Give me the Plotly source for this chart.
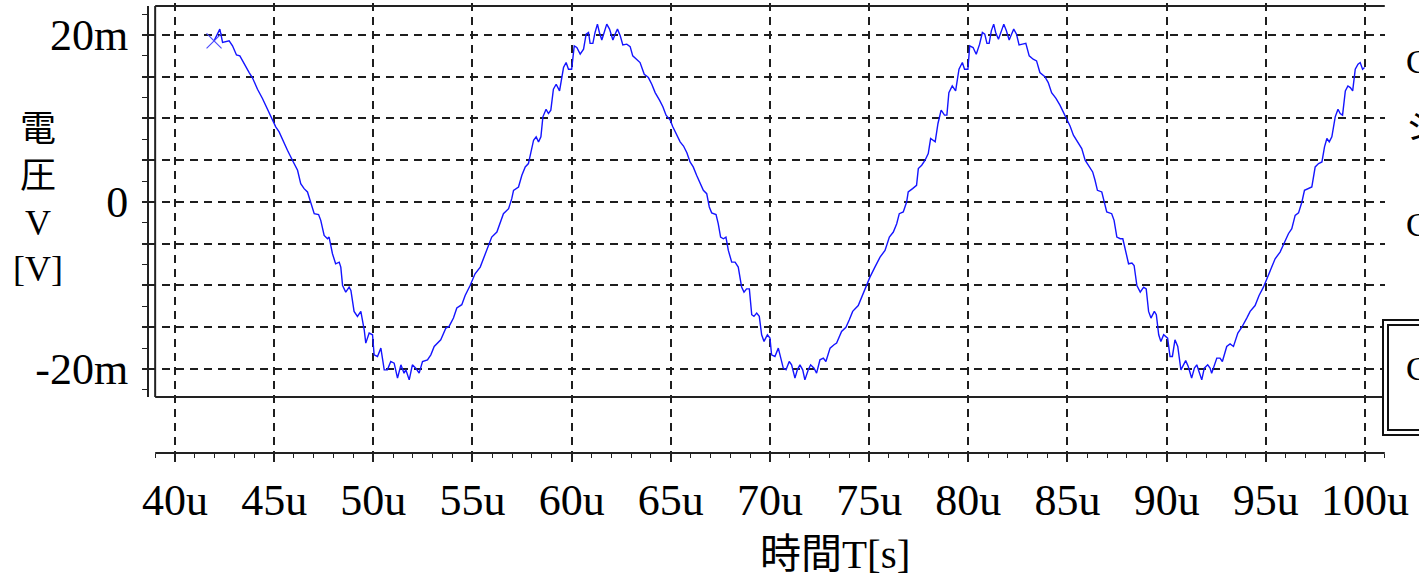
import plotly.graph_objects as go

# Transient waveform: time in microseconds, voltage in millivolts
t_us = [
    41.97, 42.06, 42.26, 42.40, 42.56, 42.73, 42.90, 43.10, 43.27, 43.49, 43.74, 43.90,
    44.16, 44.41, 44.66, 44.83, 45.08, 45.25, 45.50, 45.67, 45.92, 46.18, 46.34, 46.51,
    46.68, 46.85, 47.02, 47.24, 47.35, 47.52, 47.69, 47.77, 47.94, 48.10, 48.28, 48.36,
    48.45, 48.61, 48.78, 48.87, 49.03, 49.20, 49.37, 49.54, 49.62, 49.79, 49.96, 50.04,
    50.21, 50.38, 50.55, 50.71, 50.88, 51.05, 51.22, 51.39, 51.55, 51.64, 51.81, 51.97,
    52.14, 52.31, 52.48, 52.73, 52.90, 53.07, 53.24, 53.40, 53.66, 53.82, 54.04, 54.21,
    54.46, 54.63, 54.88, 55.13, 55.39, 55.55, 55.81, 55.97, 56.23, 56.39, 56.56, 56.82,
    56.98, 57.07, 57.32, 57.49, 57.66, 57.82, 57.91, 58.08, 58.21, 58.33, 58.45, 58.55,
    58.71, 58.83, 58.95, 59.08, 59.22, 59.39, 59.59, 59.72, 59.84, 60.00, 60.13, 60.26,
    60.43, 60.60, 60.73, 60.85, 60.93, 61.07, 61.18, 61.30, 61.40, 61.52, 61.64, 61.77,
    61.91, 62.08, 62.19, 62.31, 62.45, 62.58, 62.78, 62.95, 63.08, 63.29, 63.45, 63.66,
    63.87, 64.04, 64.21, 64.43, 64.60, 64.76, 64.97, 65.10, 65.30, 65.47, 65.64, 65.81,
    65.97, 66.13, 66.30, 66.47, 66.64, 66.81, 66.94, 67.06, 67.28, 67.39, 67.51, 67.65,
    67.78, 67.90, 68.07, 68.24, 68.40, 68.57, 68.69, 68.82, 68.96, 69.08, 69.19, 69.33,
    69.46, 69.58, 69.70, 69.87, 70.00, 70.08, 70.25, 70.42, 70.54, 70.67, 70.81, 70.97,
    71.09, 71.26, 71.38, 71.51, 71.65, 71.76, 71.93, 72.05, 72.22, 72.35, 72.52, 72.69,
    72.82, 73.03, 73.23, 73.36, 73.61, 73.83, 74.00, 74.17, 74.45, 74.62, 74.84, 75.04,
    75.29, 75.55, 75.80, 76.02, 76.22, 76.39, 76.52, 76.72, 76.89, 76.97, 77.19, 77.39,
    77.48, 77.65, 77.82, 77.98, 78.10, 78.33, 78.47, 78.63, 78.80, 78.92, 79.02, 79.19,
    79.36, 79.53, 79.70, 79.81, 79.98, 80.07, 80.24, 80.40, 80.57, 80.71, 80.83, 80.94,
    81.05, 81.16, 81.28, 81.38, 81.52, 81.65, 81.79, 81.92, 82.06, 82.18, 82.29, 82.43,
    82.56, 82.73, 82.90, 83.07, 83.27, 83.44, 83.61, 83.86, 84.03, 84.20, 84.42, 84.62,
    84.79, 84.96, 85.13, 85.30, 85.55, 85.72, 85.89, 86.10, 86.27, 86.39, 86.51, 86.73,
    86.85, 86.98, 87.23, 87.35, 87.49, 87.66, 87.79, 87.91, 88.08, 88.25, 88.36, 88.50,
    88.67, 88.84, 88.97, 89.09, 89.21, 89.38, 89.48, 89.60, 89.71, 89.85, 90.05, 90.17,
    90.29, 90.42, 90.56, 90.72, 90.84, 90.96, 91.09, 91.26, 91.40, 91.52, 91.63, 91.77,
    91.90, 92.07, 92.19, 92.27, 92.53, 92.69, 92.81, 93.03, 93.20, 93.37, 93.59, 93.79,
    94.04, 94.21, 94.46, 94.66, 94.88, 95.05, 95.27, 95.47, 95.72, 95.94, 96.14, 96.31,
    96.48, 96.65, 96.82, 96.95, 97.12, 97.32, 97.49, 97.66, 97.83, 97.96, 98.08, 98.20,
    98.33, 98.50, 98.64, 98.75, 98.87, 99.01, 99.14, 99.26, 99.38, 99.51, 99.65, 99.76,
    99.88, 99.98,
]
v_mv = [
    19.3, 19.7, 20.7, 19.1, 19.2, 19.3, 18.7, 17.6, 17.5, 16.5, 15.5, 14.9,
    13.5, 12.4, 11.2, 10.2, 9.0, 8.4, 7.0, 6.2, 5.0, 3.8, 2.2, 1.6,
    1.2, 0.0, -1.4, -1.5, -2.2, -4.0, -4.4, -4.2, -6.2, -7.4, -7.2, -7.8,
    -10.0, -10.8, -10.2, -10.6, -13.1, -13.7, -13.1, -15.3, -16.9, -15.7, -15.9, -18.3,
    -18.5, -17.5, -20.1, -20.1, -19.1, -19.3, -21.1, -19.5, -20.5, -20.1, -21.3, -19.5,
    -19.9, -20.5, -19.1, -18.9, -18.3, -17.3, -16.9, -16.5, -15.1, -14.9, -13.9, -12.7,
    -12.3, -11.2, -10.0, -8.6, -7.8, -6.8, -5.4, -4.2, -3.6, -2.4, -1.4, -0.8,
    0.4, 1.4, 1.8, 3.2, 4.2, 4.6, 5.6, 7.4, 7.8, 7.2, 7.8, 10.2,
    11.1, 10.6, 11.0, 13.5, 14.1, 13.3, 16.1, 16.7, 15.9, 15.9, 18.7, 18.5,
    17.7, 18.3, 20.1, 20.3, 19.0, 19.0, 20.3, 21.3, 20.3, 19.4, 20.3, 21.3,
    20.7, 19.4, 20.1, 20.7, 19.9, 18.8, 18.9, 18.6, 17.5, 17.1, 16.7, 15.3,
    14.9, 14.1, 13.1, 12.2, 11.4, 10.4, 9.8, 9.0, 8.0, 7.2, 6.7, 5.9,
    4.8, 4.2, 3.2, 2.2, 1.4, 1.0, -0.6, -1.3, -1.5, -2.6, -4.2, -4.4,
    -4.2, -5.8, -7.2, -7.2, -7.8, -10.2, -10.8, -10.4, -10.4, -13.5, -13.7, -13.3,
    -13.7, -15.9, -16.7, -15.9, -16.3, -18.3, -18.5, -17.5, -18.7, -19.9, -20.1, -19.1,
    -19.5, -21.1, -20.1, -19.5, -20.1, -21.3, -20.1, -19.5, -19.9, -20.5, -18.9, -18.7,
    -19.1, -17.5, -17.1, -16.9, -15.5, -15.0, -14.1, -13.1, -12.4, -11.4, -10.2, -9.0,
    -7.8, -6.6, -5.8, -4.2, -3.6, -2.6, -1.4, -1.2, 0.0, 1.2, 1.6, 2.0,
    4.0, 4.4, 5.0, 5.8, 7.6, 7.2, 9.4, 11.0, 10.4, 10.4, 13.1, 13.9,
    13.3, 15.9, 16.7, 15.9, 15.9, 18.7, 18.5, 17.7, 18.9, 20.3, 20.1, 19.0,
    19.0, 20.5, 21.3, 20.3, 19.5, 20.3, 21.3, 20.5, 19.4, 20.1, 20.7, 20.1,
    18.8, 18.9, 19.0, 17.5, 17.1, 16.9, 15.5, 15.0, 14.3, 13.1, 12.4, 11.6,
    10.8, 10.0, 9.1, 8.0, 7.0, 6.4, 5.0, 4.2, 3.6, 2.6, 1.4, 1.2,
    0.0, -1.2, -1.4, -2.2, -4.2, -4.4, -4.4, -5.8, -7.4, -7.3, -7.6, -10.0,
    -10.8, -10.2, -10.4, -13.1, -13.9, -13.1, -13.5, -15.9, -16.7, -15.9, -16.3, -18.5,
    -18.5, -16.5, -17.3, -20.1, -19.5, -19.0, -19.7, -21.1, -19.9, -19.5, -20.3, -21.3,
    -19.9, -19.5, -19.9, -20.5, -18.7, -18.7, -19.1, -17.3, -17.0, -17.3, -15.7, -15.0,
    -13.9, -13.1, -12.4, -11.2, -10.2, -9.2, -8.0, -6.8, -6.0, -4.8, -3.8, -3.2,
    -1.6, -1.3, 0.0, 1.4, 1.6, 1.8, 4.2, 4.6, 4.8, 6.6, 7.6, 7.2,
    7.8, 10.2, 11.1, 10.6, 10.4, 13.3, 13.9, 13.7, 13.3, 15.9, 16.5, 16.7,
    15.9, 16.1,
]

# Cursor position on the trace
cursor_t = [41.97]
cursor_v = [19.3]

x_ticks = [40, 45, 50, 55, 60, 65, 70, 75, 80, 85, 90, 95, 100]
x_labels = [f"{v}u" for v in x_ticks]
x_minor = [v for v in range(39, 102) if v % 5 != 0]

y_ticks = [-20, -15, -10, -5, 0, 5, 10, 15, 20]
y_labels = ["-20m", "", "", "", "0", "", "", "", "20m"]
y_minor = [-22.5, -17.5, -12.5, -7.5, -2.5, 2.5, 7.5, 12.5, 17.5, 22.5]

legend_items = ["C", "シ", "C"]
legend_boxed = "C"

SERIF = "Liberation Serif, Times New Roman, serif"
MIXED = "Liberation Serif, Noto Sans CJK JP, serif"
INK = "#222222"

W, H = 1419, 577
ML, MR, MT, MB = 148, 34, 3, 124
PW, PH = W - ML - MR, H - MT - MB


def px(x):
    return (x - ML) / PW


def py(y):
    return (H - MB - y) / PH


fig = go.Figure()
fig.add_trace(go.Scatter(
    x=t_us, y=v_mv, mode="lines",
    line=dict(color="#1414ff", width=1.4),
    hoverinfo="skip", showlegend=False,
))
fig.add_trace(go.Scatter(
    x=cursor_t, y=cursor_v, mode="markers",
    marker=dict(symbol="x-thin", size=15, line=dict(width=1.2, color="#4a4aff")),
    hoverinfo="skip", showlegend=False,
))

# plot frame (left, top, bottom) and the separate axis lines
frame_x0, frame_x1 = 39, 101
frame_y0, frame_y1 = -23.35, 23.47
for x0, y0, x1, y1 in [
    (frame_x0, frame_y0, frame_x0, frame_y1),
    (frame_x0, frame_y1, frame_x1, frame_y1),
    (frame_x0, frame_y0, frame_x1, frame_y0),
]:
    fig.add_shape(type="line", xref="x", yref="y", x0=x0, y0=y0, x1=x1, y1=y1,
                  line=dict(color=INK, width=2))
fig.add_shape(type="line", xref="paper", yref="y", x0=0, x1=0, y0=frame_y0, y1=frame_y1,
              line=dict(color=INK, width=2))
fig.add_shape(type="line", xref="x", yref="paper", x0=frame_x0, x1=frame_x1, y0=0, y1=0,
              line=dict(color=INK, width=2))

# legend panel at the right edge
fig.add_shape(type="rect", xref="paper", yref="paper",
              x0=px(1383), x1=px(1520), y0=py(435), y1=py(320),
              line=dict(color="#111", width=2), fillcolor="white")
fig.add_shape(type="rect", xref="paper", yref="paper",
              x0=px(1388), x1=px(1520), y0=py(430), y1=py(325),
              line=dict(color="#111", width=2))
for txt, yy in zip(legend_items, [61, 127, 225]):
    fig.add_annotation(text=txt, xref="paper", yref="paper", x=px(1404), y=py(yy),
                       xanchor="left", yanchor="middle", showarrow=False,
                       font=dict(family=MIXED, size=34, color="black"))
fig.add_annotation(text=legend_boxed, xref="paper", yref="paper", x=px(1404), y=py(368),
                   xanchor="left", yanchor="middle", showarrow=False,
                   font=dict(family=MIXED, size=34, color="black"))

# axis titles
fig.add_annotation(text="電<br>圧<br>V<br>[V]", xref="paper", yref="paper",
                   x=px(38), y=py(199), xanchor="center", yanchor="middle",
                   showarrow=False, align="center",
                   font=dict(family=MIXED, size=36, color="black"))
fig.add_annotation(text="時間T[s]", xref="paper", yref="paper",
                   x=px(835), y=py(554), xanchor="center", yanchor="middle",
                   showarrow=False, font=dict(family=MIXED, size=41, color="black"))

grid = dict(showgrid=True, gridcolor="#1e1e1e", gridwidth=1.6, griddash="8px,6px",
            zeroline=False, showline=False)

fig.update_xaxes(
    range=[38.639, 101.01], tickmode="array", tickvals=x_ticks, ticktext=x_labels,
    ticks="outside", ticklen=8, tickwidth=1.5, tickcolor=INK,
    tickfont=dict(family=SERIF, size=44, color="black"), ticklabelstandoff=0,
    minor=dict(tickvals=x_minor, ticks="outside", ticklen=4, tickwidth=1.2,
               tickcolor=INK, showgrid=False),
    **grid,
)
fig.update_yaxes(
    range=[-30.06, 23.83], tickmode="array", tickvals=y_ticks, ticktext=y_labels,
    ticks="outside", ticklen=5, tickwidth=1.5, tickcolor=INK,
    tickfont=dict(family=SERIF, size=44, color="black"), ticklabelstandoff=5,
    minor=dict(tickvals=y_minor, ticks="outside", ticklen=5, tickwidth=1.2,
               tickcolor=INK, showgrid=False),
    **grid,
)

fig.update_layout(
    width=W, height=H,
    margin=dict(l=ML, r=MR, t=MT, b=MB, pad=0),
    plot_bgcolor="white", paper_bgcolor="white",
    showlegend=False,
)

fig.write_html("out.html")
